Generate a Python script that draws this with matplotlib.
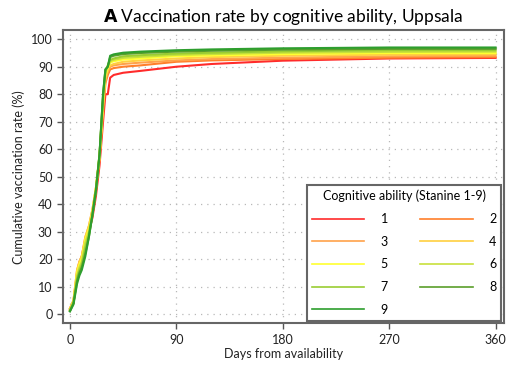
import numpy as np
import matplotlib.pyplot as plt

plt.rcParams['font.family'] = ['Lato', 'DejaVu Sans']

# days since availability
days = [0, 3, 6, 8, 10, 13, 16, 19, 22, 25, 28, 30, 32, 34, 37, 45, 60, 90, 120, 180, 270, 360]

# cumulative vaccination rate (%) per stanine group
s1 = [1.5, 4, 14, 18, 20, 25, 30, 35, 43, 54, 70, 80, 80, 86, 87, 87.8, 88.5, 90, 91, 92.2, 93, 93.2]
s2 = [2, 4.5, 15, 19, 21, 27, 31, 37, 45, 56, 73, 84, 87, 89, 89.5, 90, 90.5, 91.8, 92.3, 92.8, 93.3, 93.5]
s3 = [2, 5, 16, 19, 21, 28, 32, 38, 46, 57, 75, 85, 88, 90, 90.5, 91, 91.5, 92.3, 92.8, 93.3, 93.8, 94]
s4 = [2, 5, 16, 19, 21, 28, 32, 38, 46, 57, 76, 86, 89, 90.5, 91, 91.8, 92.3, 93, 93.5, 94, 94.4, 94.5]
s5 = [1.5, 4.5, 15, 18, 20, 27, 31, 37, 46, 57, 77, 87, 89.5, 91.5, 92, 92.6, 93, 93.8, 94.1, 94.6, 95, 95]
s6 = [1.5, 4.5, 14, 17, 19, 26, 30, 37, 46, 58, 78, 88, 90, 92, 92.5, 93.2, 93.6, 94.3, 94.6, 95.1, 95.4, 95.5]
s7 = [1.5, 4, 13, 16, 18, 24, 29, 36, 45, 58, 79, 88.5, 90.5, 92.5, 93, 93.8, 94.2, 94.8, 95.1, 95.6, 96, 96]
s8 = [1, 4, 12, 15, 17, 22, 28, 36, 45, 58, 80, 89, 90, 93.5, 94, 94.6, 95, 95.5, 95.8, 96.2, 96.5, 96.5]
s9 = [1, 3.5, 11, 14, 16, 21, 28, 36, 45, 58, 80, 89, 90, 94, 94.5, 95.1, 95.5, 96, 96.3, 96.7, 97, 97]

groups = ['1', '2', '3', '4', '5', '6', '7', '8', '9']
series = [s1, s2, s3, s4, s5, s6, s7, s8, s9]
colors = ['#ff2b2b', '#ff7f2a', '#ffa24a', '#ffcf40', '#ffff30',
          '#c8e03c', '#9acd32', '#5a9e2a', '#2e9e2e']

fig = plt.figure(figsize=(5.11, 3.68), dpi=100)
ax = fig.add_axes([0.123, 0.122, 0.863, 0.796])

lines = []
for lab, y, c in zip(groups, series, colors):
    ln, = ax.plot(days, y, color=c, lw=1.5, label=lab)
    lines.append(ln)

ax.set_xlim(-6, 367)
ax.set_ylim(-3.3, 103.3)
ax.set_xticks([0, 90, 180, 270, 360])
ax.set_yticks(np.arange(0, 101, 10))
ax.grid(True, color='#b8b8b8', linestyle=(0, (1, 4)), lw=0.9)
ax.tick_params(direction='out', length=4, width=1, color='#555555', labelsize=9, labelcolor='#222222')
for sp in ax.spines.values():
    sp.set_color('#666666')
    sp.set_linewidth(1.5)

ax.set_xlabel('Days from availability', fontsize=9, color='#222222', labelpad=2)
ax.set_ylabel('Cumulative vaccination rate (%)', fontsize=9, color='#222222', labelpad=4)
ax.set_title(r'$\bf{A}$ Vaccination rate by cognitive ability, Uppsala', fontsize=12.5, pad=6)

# row-wise legend order: 1 2 / 3 4 / 5 6 / 7 8 / 9
order = [0, 2, 4, 6, 8, 1, 3, 5, 7]
leg = ax.legend([lines[i] for i in order], [groups[i] for i in order],
                title='Cognitive ability (Stanine 1-9)', ncol=2, loc='lower right',
                fontsize=9, title_fontsize=9, handlelength=4.2, handletextpad=1.3,
                columnspacing=2.6, labelspacing=0.85, borderaxespad=0.2,
                fancybox=False, framealpha=1)
leg.get_frame().set_edgecolor('#666666')
leg.get_frame().set_linewidth(1.5)
for h in leg.get_lines():
    h.set_linewidth(1.2)

fig.savefig('out.png', dpi=100)
